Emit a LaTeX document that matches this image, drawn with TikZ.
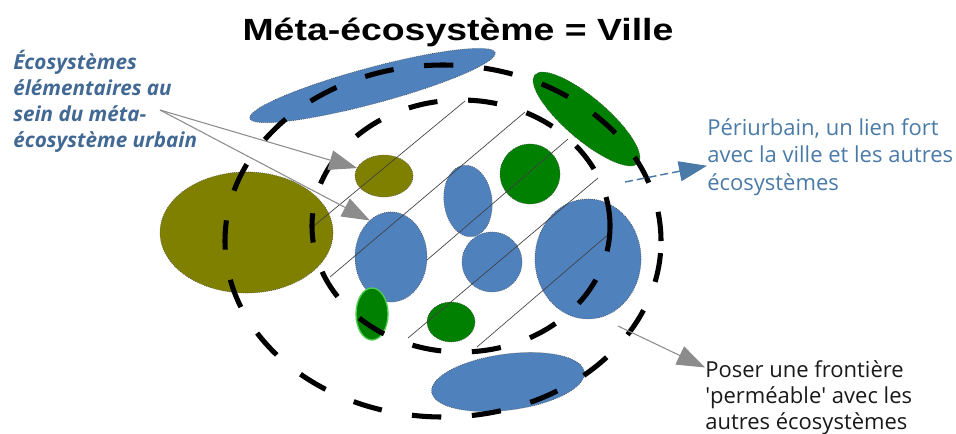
\documentclass[tikz,border=0pt]{standalone}
\usepackage{fontspec}
\setmainfont{Open Sans}
\newfontfamily\titlefont[FakeStretch=1.22]{Liberation Sans}
\usetikzlibrary{shapes.geometric, arrows.meta}
\definecolor{ecoblue}{RGB}{79,129,189}
\definecolor{ecogreen}{RGB}{0,128,0}
\definecolor{ecoolive}{RGB}{128,128,0}
\definecolor{lightgreen}{RGB}{80,205,80}
\definecolor{labelblue}{RGB}{66,104,148}
\definecolor{periblue}{RGB}{74,122,168}
\definecolor{arrowgray}{RGB}{140,140,140}

\begin{document}
\begin{tikzpicture}[x=0.75pt, y=-0.75pt,
  eco/.style 2 args={ellipse, inner sep=0pt, outer sep=0pt,
    minimum width=#1*1.5pt, minimum height=#2*1.5pt,
    draw=black!70, densely dotted, line width=0.5pt},
  frontier/.style 2 args={ellipse, inner sep=0pt, outer sep=0pt,
    minimum width=#1*1.5pt, minimum height=#2*1.5pt,
    draw=black, line width=3.8pt, dash pattern=on 22pt off 23pt},
  hatch/.style={draw=black!75, line width=0.5pt},
  grayarrow/.style={draw=arrowgray, line width=0.8pt,
    -{Triangle[length=21pt, width=15pt, fill=arrowgray]}},
  periarrow/.style={draw=periblue, line width=1.1pt, dash pattern=on 6pt off 3pt,
    -{Triangle[length=21pt, width=15pt, fill=periblue]}}
]
\useasboundingbox (0,0) rectangle (956,433);
%Title
\node [anchor=base, inner sep=0pt] (title) at (458,40.5)
  {\titlefont\fontsize{23}{28}\selectfont\bfseries Méta-écosystème = Ville};
%Ecosystems around the city
\node [eco={127}{18}, fill=ecoblue, rotate=15] (bluetop) at (372.5,85.5) {};
\node [eco={68}{21}, fill=ecogreen, rotate=-40.5] (greentop) at (586.5,119) {};
\node [eco={86.5}{60.5}, fill=ecoolive] (olivebig) at (246.5,232.5) {};
\node [eco={77}{28}, fill=ecoblue, rotate=7.5] (bluebottom) at (508,382) {};
%Elementary ecosystems inside the city
\node [eco={29}{21}, fill=ecoolive] (olivesmall) at (384,176) {};
\node [eco={36}{45}, fill=ecoblue] (blueleft) at (391,257) {};
\node [eco={24}{36}, fill=ecoblue, rotate=7] (bluetilt) at (468,201) {};
\node [eco={30}{30}, fill=ecogreen] (greencircle) at (530,174) {};
\node [eco={30}{30}, fill=ecoblue] (bluecircle) at (492,262) {};
\node [eco={53}{60}, fill=ecoblue] (blueright) at (588,259) {};
\node [eco={16}{26}, fill=ecogreen, draw=lightgreen, solid, line width=1pt] (greensmall) at (372,314) {};
\node [eco={24}{20}, fill=ecogreen] (greenbottom) at (451,322) {};
%Hatching of the city
\foreach \ax/\ay/\bx/\by in {315/225/465/101, 330/277/525/112, 427/260/568/139,
  408/338/598/178, 477/347/610/233} {
  \draw [hatch] (\ax,\ay) -- (\bx,\by);
}
%Frontiers
\node [frontier={218}{176}] (outer) at (443,241) {};
\node [frontier={149}{126}] (inner) at (461,226) {};
%Labels
\node [anchor=base west, inner sep=0pt, align=left, text=labelblue,
  font=\fontsize{15.5}{19.3}\selectfont\bfseries\itshape] (elem) at (13,147)
  {Écosystèmes\\élémentaires au\\sein du méta-\\écosystème urbain};
\node [anchor=base west, inner sep=0pt, align=left, text=periblue,
  font=\fontsize{16.5}{20.3}\selectfont] (peri) at (707,190)
  {Périurbain, un lien fort\\avec la ville et les autres\\écosystèmes};
\node [anchor=base west, inner sep=0pt, align=left, text=black!90,
  font=\fontsize{16.5}{19.5}\selectfont] (poser) at (705,429)
  {Poser une frontière\\\textquotesingle perméable\textquotesingle{} avec les\\autres écosystèmes};
%Arrows
\coordinate (elemend) at (160,110);
\draw [grayarrow] (elemend) -- (olivesmall);
\draw [grayarrow] (elemend) -- (blueleft.120);
\coordinate (perifrom) at (625,182);
\draw [periarrow] (perifrom) -- (peri.184);
\coordinate (poserfrom) at (618,326);
\draw [grayarrow] (poserfrom) -- (poser.164);
\end{tikzpicture}
\end{document}
